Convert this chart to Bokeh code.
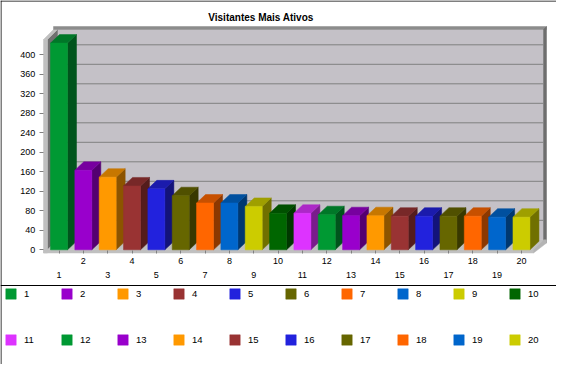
from bokeh.plotting import figure
from bokeh.models import Range1d, FixedTicker, Span, Legend, LegendItem, LinearAxis, Label
from bokeh.embed import file_html
from bokeh.resources import INLINE

# ---------------- data ----------------
visitor_labels = [str(i) for i in range(1, 21)]
visit_counts = [424, 163, 149, 131, 125, 111, 96, 96, 89, 75,
                75, 72, 70, 70, 69, 69, 69, 69, 67, 67]
y_tick_values = [0, 40, 80, 120, 160, 200, 240, 280, 320, 360, 400]
y_tick_labels = ["0", "40", "80", "120", "160", "200", "240", "280", "320", "360", "400"]
chart_title = "Visitantes Mais Ativos"

# ---------------- style ----------------
PALETTE = ["#009933", "#9900CC", "#FF9900", "#993333", "#2222DD", "#666600",
           "#FF6600", "#0066CC", "#CCCC00", "#006600", "#DD33FF"]
FONT = "Liberation Sans"
BACK_WALL = "#C4C1C7"
LIGHT = "#C0C0C0"
LEFT_WALL = "#707070"
TOP_BAND = "#8C8C8C"
RIGHT_BAND = "#6E6E6E"
GRID = "#808080"
TICK = "#808080"

W, H = 556, 364

# pixel geometry of the 3D chart
PX_PER_CAT = 24.34
PX_PER_UNIT = 0.4875
PX_CAT1 = 58.5
PX_ZERO = 249.3


def cx(px):
    return 1 + (px - PX_CAT1) / PX_PER_CAT


def vy(px):
    return (PX_ZERO - px) / PX_PER_UNIT


def dx(px):
    return px / PX_PER_CAT


def dy(px):
    return px / PX_PER_UNIT


def shade(hex_color, f):
    r, g, b = (int(hex_color[i:i + 2], 16) for i in (1, 3, 5))
    return "#%02x%02x%02x" % (round(r * f), round(g * f), round(b * f))


p = figure(width=W, height=H, output_backend="svg", toolbar_location=None,
           x_range=Range1d(cx(0), cx(W)), y_range=Range1d(vy(H), vy(0)),
           x_axis_location=None, y_axis_location=None, min_border=0,
           background_fill_color="white", border_fill_color="white",
           outline_line_color=None)
p.grid.visible = False

# ---------------- 3D box (walls + floor) ----------------
xl, xr = cx(47), cx(533)
wdx, wdy = dx(10), dy(10)
top = vy(39)
lt, ft, tt, rt = dx(4), dy(3.2), dy(3), dx(3)

walls = [
    ([xl + wdx, xr + wdx, xr + wdx, xl + wdx], [wdy, wdy, top + wdy, top + wdy], BACK_WALL),
    ([xl, xl + wdx, xl + wdx, xl], [0, wdy, top + wdy, top], LEFT_WALL),
    ([xl, xr, xr + wdx, xl + wdx], [0, 0, wdy, wdy], LIGHT),
    ([xl - lt, xl, xl, xl - lt], [-ft, -ft, top, top], LIGHT),
    ([xl - lt, xl, xl + wdx, xl + wdx - lt], [top, top, top + wdy, top + wdy], LIGHT),
    ([xl + wdx - lt, xr + wdx + rt, xr + wdx + rt, xl + wdx - lt],
     [top + wdy, top + wdy, top + wdy + tt, top + wdy + tt], TOP_BAND),
    ([xr + wdx, xr + wdx + rt, xr + wdx + rt, xr + wdx],
     [wdy - ft, wdy - ft, top + wdy + tt, top + wdy], RIGHT_BAND),
    ([xl - lt, xr, xr, xl - lt], [-ft, -ft, 0, 0], LIGHT),
    ([xr, xr + wdx + rt, xr + wdx + rt, xr + wdx, xr], [-ft, wdy - ft, wdy, wdy, 0], "#B4B4B4"),
]
p.patches(xs=[w[0] for w in walls], ys=[w[1] for w in walls],
          fill_color=[w[2] for w in walls], line_color=[w[2] for w in walls], line_width=0.5)

# grid lines on the back wall
gv = [t + wdy for t in y_tick_values[1:]]
p.segment(x0=[xl + wdx] * len(gv), y0=gv, x1=[xr + wdx] * len(gv), y1=gv,
          line_color=GRID, line_width=1)

# ---------------- bars ----------------
hw = dx(17) / 2
bdx, bdy = dx(9), dy(8.5)
items = []
for i, (lab, v) in enumerate(zip(visitor_labels, visit_counts)):
    c = i + 1
    col = PALETTE[i % len(PALETTE)]
    a, b = c - hw, c + hw
    side_x, side_y = [b, b + bdx, b + bdx, b], [0, bdy, v + bdy, v]
    top_x, top_y = [a, b, b + bdx, a + bdx], [v, v, v + bdy, v + bdy]
    cols = [shade(col, 0.55), shade(col, 0.78)]
    p.patches(xs=[side_x, top_x], ys=[side_y, top_y], fill_color=cols,
              line_color=cols, line_width=0.5)
    r = p.vbar(x=[c], top=[v], bottom=0, width=2 * hw, fill_color=col,
               line_color=col, line_width=0.5)
    items.append(LegendItem(label=lab, renderers=[r]))

# ---------------- axes ----------------
yax = LinearAxis(fixed_location=cx(42.7), ticker=FixedTicker(ticks=y_tick_values),
                 major_label_overrides={t: l for t, l in zip(y_tick_values, y_tick_labels)},
                 axis_line_color=None, major_tick_line_color=TICK, major_tick_in=0,
                 major_tick_out=4, minor_tick_line_color=None, major_label_standoff=4,
                 major_label_text_font=FONT, major_label_text_font_size="9px",
                 major_label_text_color="black")
p.add_layout(yax, "left")

positions = list(range(1, len(visitor_labels) + 1))
odd_pos = [x for x in positions if x % 2 == 1]
xax_even = LinearAxis(fixed_location=vy(250), ticker=FixedTicker(ticks=positions),
                      major_label_overrides={x: (l if x % 2 == 0 else "")
                                             for x, l in zip(positions, visitor_labels)},
                      axis_line_color=None, major_tick_line_color=TICK, major_tick_in=0,
                      major_tick_out=3, minor_tick_line_color=None, major_label_standoff=4,
                      major_label_text_font=FONT, major_label_text_font_size="9px",
                      major_label_text_color="black")
xax_odd = LinearAxis(fixed_location=vy(250), ticker=FixedTicker(ticks=odd_pos),
                     major_label_overrides={x: l for x, l in zip(positions, visitor_labels)
                                            if x % 2 == 1},
                     axis_line_color=None, major_tick_line_color=None, major_tick_in=0,
                     major_tick_out=0, minor_tick_line_color=None, major_label_standoff=21,
                     major_label_text_font=FONT, major_label_text_font_size="9px",
                     major_label_text_color="black")
p.add_layout(xax_even, "below")
p.add_layout(xax_odd, "below")

# ---------------- borders / separator ----------------
p.add_layout(Span(location=vy(285), dimension="width", line_color="black", line_width=1))
p.add_layout(Span(location=cx(0.5), dimension="height", line_color="black", line_width=1))
p.add_layout(Span(location=vy(0.5), dimension="width", line_color="black", line_width=1))

# ---------------- title ----------------
p.add_layout(Label(x=260.5, y=H - 17.3, x_units="screen", y_units="screen",
                   text=chart_title, text_align="center", text_baseline="alphabetic",
                   text_font=FONT, text_font_style="bold", text_font_size="10px",
                   text_color="black"))

# ---------------- legend (two rows of ten) ----------------
def make_legend(row_items, top_px):
    return Legend(items=row_items, orientation="horizontal",
                  location=(4, round(H - top_px - 13)),
                  glyph_width=13, glyph_height=13, label_standoff=7, label_width=30,
                  label_height=13, spacing=6, padding=0, margin=0,
                  border_line_color=None, background_fill_alpha=0,
                  label_text_font=FONT, label_text_font_size="9.5px",
                  label_text_color="black")


p.add_layout(make_legend(items[:10], 287))
p.add_layout(make_legend(items[10:], 333))

open("out.html", "w").write(file_html(p, INLINE))
